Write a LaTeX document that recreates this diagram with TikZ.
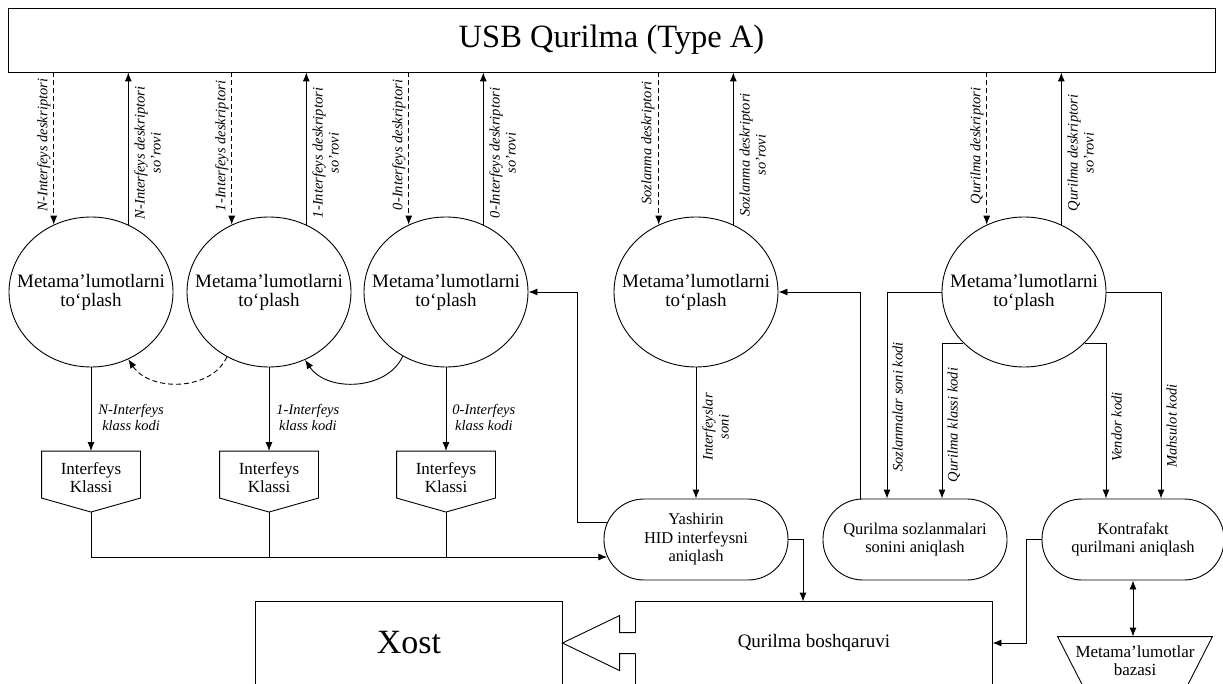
\documentclass[tikz,border=0pt]{standalone}
\usepackage{fontspec}
\setmainfont{Liberation Serif}
\usetikzlibrary{arrows.meta,calc,shapes.geometric}
\begin{document}
\begin{tikzpicture}[x=1pt,y=-1pt,line width=0.9pt,
  arr/.style={-{Latex[length=9pt,width=7pt]}},
  darr/.style={{Latex[length=9pt,width=7pt]}-{Latex[length=9pt,width=7pt]}},
  dsh/.style={dash pattern=on 5pt off 3pt},
  ell/.style={draw, ellipse, minimum width=164pt, minimum height=150pt, inner sep=0pt},
  ctext/.style={align=center, inner sep=0pt, font=\fontsize{19}{19}\selectfont},
  lab/.style={align=center, inner sep=1pt, font=\fontsize{14.5}{16}\selectfont\itshape},
  kbox/.style={minimum width=98pt, minimum height=53pt, inner sep=0pt, align=center, font=\fontsize{17}{18}\selectfont},
  rbox/.style={draw, rectangle, rounded corners=40pt, minimum height=81pt, inner sep=0pt, align=center, font=\fontsize{16.5}{18.5}\selectfont},
  plain/.style={inner sep=0pt, align=center}
]
\useasboundingbox (0,0) rectangle (1223,684);
\clip (0,0) rectangle (1223,684);

% top box
\node[draw, minimum width=1207pt, minimum height=64pt, inner sep=0pt,
      font=\fontsize{32.5}{34}\selectfont] (usb) at (611.5,40) {USB Qurilma (Type A)};

% circles
\node[ell] (cN) at (91,292) {};
\node[ell] (c1) at (269,292) {};
\node[ell] (c0) at (446,292) {};
\node[ell] (cS) at (696,292) {};
\node[ell] (cQ) at (1024,292) {};
\foreach \nm in {cN,c1,c0,cS,cQ}{
  \node[ctext] at (\nm) {Metama’lumotlarni\\to‘plash};
  \draw[arr,dsh] (\nm.119 |- usb.south) -- (\nm.119);
  \draw[arr] (\nm.61) -- (\nm.61 |- usb.south);
}

% top labels
\node[lab, rotate=90, anchor=south] at (52,145) {N-Interfeys deskriptori};
\node[lab, rotate=90, anchor=north] at (133,153) {N-Interfeys deskriptori\\so’rovi};
\node[lab, rotate=90, anchor=south] at (230,146) {1-Interfeys deskriptori};
\node[lab, rotate=90, anchor=north] at (311,153) {1-Interfeys deskriptori\\so’rovi};
\node[lab, rotate=90, anchor=south] at (407,145) {0-Interfeys deskriptori};
\node[lab, rotate=90, anchor=north] at (488,153) {0-Interfeys deskriptori\\so’rovi};
\node[lab, rotate=90, anchor=south] at (656,143) {Sozlanma deskriptori};
\node[lab, rotate=90, anchor=north] at (738,155) {Sozlanma deskriptori\\so’rovi};
\node[lab, rotate=90, anchor=south] at (985,146) {Qurilma deskriptori};
\node[lab, rotate=90, anchor=north] at (1066,153) {Qurilma deskriptori\\so’rovi};

% feedback arcs
\draw[arr,dsh] (c1.237) .. controls +(-15,34) and +(22,33) .. (cN.299);
\draw[arr] (c0.236) .. controls +(-15,34) and +(22,33) .. (c1.298);

% interface class boxes
\node[kbox] (kN) at (91,478) {Interfeys\\Klassi};
\node[kbox] (k1) at (269,478) {Interfeys\\Klassi};
\node[kbox] (k0) at (446,478) {Interfeys\\Klassi};
\foreach \nm in {kN,k1,k0}{
  \draw (\nm.north west) -- (\nm.north east) -- ++(0,47) -- ($(\nm.north)+(0,61)$)
        -- ($(\nm.north west)+(0,47)$) -- cycle;
  \coordinate (\nm p) at ($(\nm.north)+(0,61)$);
}
\draw[arr] (cN.south) -- (kN.north);
\draw[arr] (c1.south) -- (k1.north);
\draw[arr] (c0.south) -- (k0.north);
\node[lab, anchor=west] at (97,417) {N-Interfeys\\klass kodi};
\node[lab, anchor=west] at (275,417) {1-Interfeys\\klass kodi};
\node[lab, anchor=west] at (451,417) {0-Interfeys\\klass kodi};

% rounded process boxes
\node[rbox, minimum width=184pt] (yash) at (696,539.5) {Yashirin\\HID interfeysni\\aniqlash};
\node[rbox, minimum width=184pt] (qsoz) at (915,539.5) {Qurilma sozlanmalari\\sonini aniqlash};
\node[rbox, minimum width=182pt] (kont) at (1133,539.5) {Kontrafakt\\qurilmani aniqlash};

\coordinate (yin) at ($(yash.west)+(3.7,17.5)$);
\coordinate (yout) at ($(yash.west)+(3.9,-17.5)$);
\draw[arr] (kNp) |- (yin);
\draw (k1p) -- (k1p |- yin);
\draw (k0p) -- (k0p |- yin);
\draw[arr] (yout) -- ++(-30,0) |- (c0.east);

\draw[arr] (cS.south) -- (yash.north);
\node[lab, rotate=90, anchor=north] at (701,427) {Interfeyslar\\soni};
\draw[arr] ($(qsoz.north)+(-55,0)$) |- (cS.east);

\draw[arr] (cQ.west) -| ($(qsoz.north)+(-28,0)$);
\draw[arr] (cQ.220) -| ($(qsoz.north)+(27,0)$);
\draw[arr] (cQ.east) -| ($(kont.north)+(28,0)$);
\draw[arr] (cQ.320) -| ($(kont.north)+(-27,0)$);
\node[lab, rotate=90, anchor=north] at (891,407) {Sozlanmalar soni kodi};
\node[lab, rotate=90, anchor=north] at (946,425) {Qurilma klassi kodi};
\node[lab, rotate=90, anchor=north] at (1110,427) {Vendor kodi};
\node[lab, rotate=90, anchor=north] at (1165,426) {Mahsulot kodi};

% host and device control
\node[plain, minimum width=306pt, minimum height=82pt, font=\fontsize{34}{36}\selectfont] (xost) at (409,643) {Xost};
\draw ($(xost.south west)+(0,20)$) -- (xost.north west) -- (xost.north east) -- ($(xost.south east)+(0,20)$);
\node[plain, minimum width=356pt, minimum height=82pt, font=\fontsize{19}{20}\selectfont] (qb) at (814,643) {Qurilma boshqaruvi};
\draw ($(qb.north west)+(0,31)$) -- (qb.north west) -- (qb.north east) -- ($(qb.south east)+(0,20)$);
\draw ($(qb.north west)+(0,52)$) -- ($(qb.south west)+(0,20)$);
\draw ($(qb.north west)+(0,31)$) -- ++(-16,0) -- ++(0,-17) -- (xost.east)
      -- ($(qb.north west)+(-16,69)$) -- ++(0,-17) -- ++(16,0);
\draw[arr] (yash.east) -| ($(qb.north)+(-11,0)$);
\draw[arr] (kont.west) -- ++(-15,0) |- (qb.east);

% metadata base
\node[plain, minimum width=154pt, minimum height=48pt, font=\fontsize{17}{18}\selectfont] (db) at (1135,661) {Metama’lumotlar\\bazasi};
\draw (db.north west) -- (db.north east) -- ($(db.south east)+(-25,0)$) -- ($(db.south west)+(25,0)$) -- cycle;
\draw[darr] (kont.south) -- (kont.south |- db.north);
\end{tikzpicture}
\end{document}
